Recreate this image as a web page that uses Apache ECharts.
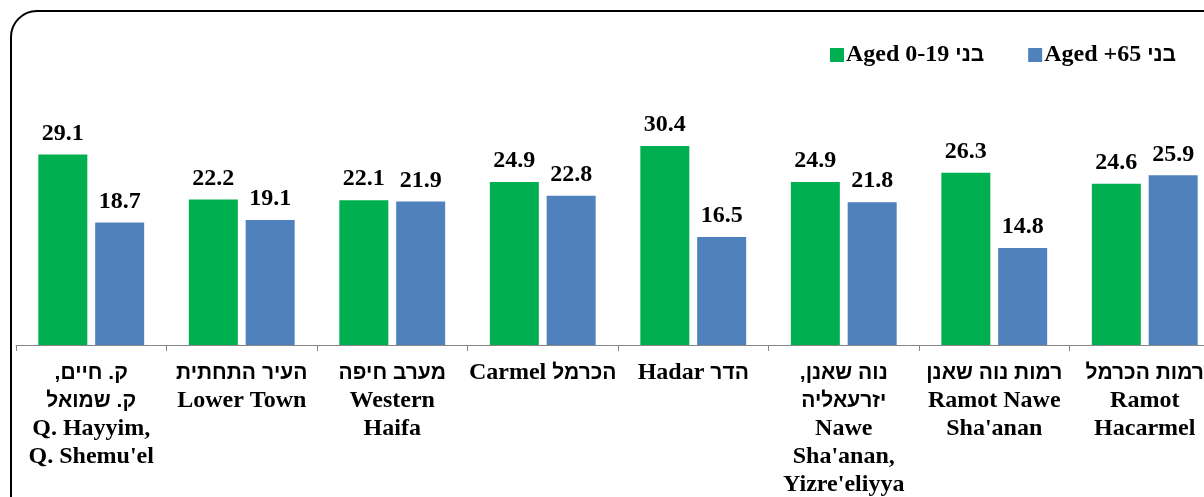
<!DOCTYPE html>
<html>
<head>
<meta charset="utf-8">
<script src="https://cdn.jsdelivr.net/npm/echarts@6/dist/echarts.min.js"></script>
<style>
html,body{margin:0;padding:0;background:#fff;}
#chart{width:1204px;height:497px;}
</style>
</head>
<body>
<div id="chart"></div>
<script>
const categories = [
  "ק. חיים,\u200F\nק. שמואל\nQ. Hayyim,\nQ. Shemu'el",
  "העיר התחתית\nLower Town",
  "מערב חיפה\nWestern\nHaifa",
  "Carmel הכרמל",
  "Hadar הדר",
  "נוה שאנן,\u200F\nיזרעאליה\nNawe\nSha'anan,\nYizre'eliyya",
  "רמות נוה שאנן\nRamot Nawe\nSha'anan",
  "רמות הכרמל\nRamot\nHacarmel"
];
const seriesNames = ["Aged 0-19 בני", "Aged +65 בני"];
const aged0to19 = [29.1, 22.2, 22.1, 24.9, 30.4, 24.9, 26.3, 24.6];
const aged65plus = [18.7, 19.1, 21.9, 22.8, 16.5, 21.8, 14.8, 25.9];

const serif = "'Liberation Serif', 'Times New Roman', 'DejaVu Serif', serif";
const sans = "'Liberation Sans', Arial, 'DejaVu Sans', sans-serif";
const isHeb = s => /[\u0590-\u05FF]/.test(s);
function richLine(line) {
  const toks = line.split(' ');
  const groups = [];
  toks.forEach(t => {
    const h = isHeb(t);
    const last = groups[groups.length - 1];
    if (last && last.h === h) last.t.push(t); else groups.push({h, t: [t]});
  });
  return groups.map((g, i) => {
    const txt = g.t.join(' ') + (i < groups.length - 1 ? ' ' : '');
    return '{' + (g.h ? 'h' : 'e') + '|' + txt + '}';
  }).join('');
}
const richFmt = v => v.split('\n').map(richLine).join('\n');

const chart = echarts.init(document.getElementById('chart'));
const valueLabel = {
  show: true, position: 'top', distance: 9,
  fontFamily: serif, fontWeight: 'bold', fontSize: 24, color: '#000',
  formatter: p => p.value.toFixed(1)
};
chart.setOption({
  animation: false,
  backgroundColor: '#fff',
  graphic: [{
    type: 'rect', z: -1, silent: true,
    shape: {x: 11, y: 11, width: 1260, height: 530, r: 26},
    style: {fill: 'none', stroke: '#000', lineWidth: 2}
  }],
  legend: {
    left: 825, top: 38,
    itemWidth: 14, itemHeight: 14, itemGap: 44,
    icon: 'rect',
    formatter: richFmt,
    textStyle: {
      padding: [0,0,0,-3], color: '#000',
      rich: {
        e: {fontFamily: serif, fontWeight: 'bold', fontSize: 24, color: '#000'},
        h: {fontFamily: sans, fontWeight: 'bold', fontSize: 21, color: '#000'}
      }
    },
    data: seriesNames
  },
  grid: {left: 16, top: 83, width: 1204, height: 262, outerBoundsMode: 'none', containLabel: false},
  xAxis: {
    type: 'category', data: categories,
    axisLine: {lineStyle: {color: '#868686', width: 1}},
    axisTick: {show: true, length: 6, lineStyle: {color: '#868686'}},
    axisLabel: {
      interval: 0, margin: 14, color: '#000',
      formatter: richFmt,
      rich: {
        e: {fontFamily: serif, fontWeight: 'bold', fontSize: 24, lineHeight: 28, color: '#000'},
        h: {fontFamily: sans, fontWeight: 'bold', fontSize: 21, lineHeight: 28, color: '#000'}
      }
    }
  },
  yAxis: {
    type: 'value', min: 0, max: 40, show: false,
    splitLine: {show: false}
  },
  series: [
    {name: seriesNames[0], type: 'bar', data: aged0to19, barWidth: 49, barGap: '16%',
     itemStyle: {color: '#00B050'}, label: valueLabel},
    {name: seriesNames[1], type: 'bar', data: aged65plus, barWidth: 49,
     itemStyle: {color: '#4F81BD'}, label: valueLabel}
  ]
});
</script>
</body>
</html>
